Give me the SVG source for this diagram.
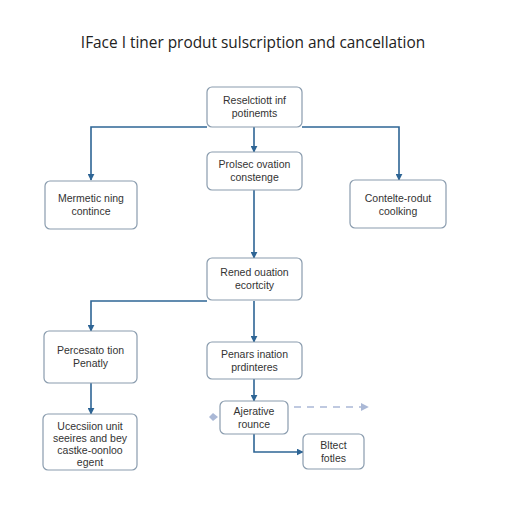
<svg xmlns="http://www.w3.org/2000/svg" width="512" height="512" viewBox="0 0 512 512">
<defs>
<style>
.node rect{fill:#fff;stroke:#8a9cae;stroke-width:1.2}
.node text{font-family:"Liberation Sans",Arial,sans-serif;font-size:10.5px;fill:#333;text-anchor:middle}
.title{font-family:"Open Sans","Liberation Sans",sans-serif;font-size:15.4px;fill:#222;text-anchor:middle}
.conn path{fill:none;stroke:#2e6595;stroke-width:1.6}
.conn .dash{stroke:#aab8d6;stroke-dasharray:7 6;stroke-width:1.6}
.conn .tip{fill:#aab8d6;stroke:none}
</style>
<marker id="ah" viewBox="0 0 10 10" refX="9" refY="5" markerWidth="7" markerHeight="7" orient="auto" markerUnits="userSpaceOnUse">
<path d="M0,0 L10,5 L0,10 z" fill="#2e6595"/>
</marker>
<marker id="ahl" viewBox="0 0 10 10" refX="9" refY="5" markerWidth="8" markerHeight="8" orient="auto" markerUnits="userSpaceOnUse">
<path d="M0,0 L10,5 L0,10 z" fill="#aab8d6"/>
</marker>
</defs>
<rect width="512" height="512" fill="#fff"/>
<text class="title" x="253" y="48">IFace I tiner produt sulscription and cancellation</text>
<g class="conn">
<path d="M207,127 H91 V180" marker-end="url(#ah)"/>
<path d="M302,127 H399 V180" marker-end="url(#ah)"/>
<path d="M254,127 V152" marker-end="url(#ah)"/>
<path d="M254,190 V258" marker-end="url(#ah)"/>
<path d="M207,301 H91 V331" marker-end="url(#ah)"/>
<path d="M254,301 V342" marker-end="url(#ah)"/>
<path d="M91,383 V414" marker-end="url(#ah)"/>
<path d="M254,379 V401" marker-end="url(#ah)"/>
<path d="M254,434 V452 H303" marker-end="url(#ah)"/>
<path class="dash" d="M294,407 H368" marker-end="url(#ahl)"/>
<path class="tip" d="M218,417 L213,413 L209,417 L213,421 Z"/>
</g>
<g id="n1" class="node"><rect x="207" y="87" width="95" height="40" rx="5"/><text x="254.5" y="104">Reselctiott inf</text><text x="254.5" y="117">potinemts</text></g>
<g id="n2" class="node"><rect x="207" y="152" width="95" height="38" rx="5"/><text x="254.5" y="168">Prolsec ovation</text><text x="254.5" y="181">constenge</text></g>
<g id="n3" class="node"><rect x="45" y="181" width="92" height="48" rx="5"/><text x="91" y="202">Mermetic ning</text><text x="91" y="215">contince</text></g>
<g id="n4" class="node"><rect x="350" y="180" width="96" height="48" rx="5"/><text x="398" y="202">Contelte-rodut</text><text x="398" y="215">coolking</text></g>
<g id="n5" class="node"><rect x="207" y="258" width="95" height="42" rx="5"/><text x="254.5" y="276">Rened ouation</text><text x="254.5" y="289">ecortcity</text></g>
<g id="n6" class="node"><rect x="44" y="331" width="93" height="52" rx="5"/><text x="90.5" y="354">Percesato tion</text><text x="90.5" y="367">Penatly</text></g>
<g id="n7" class="node"><rect x="207" y="342" width="95" height="37" rx="5"/><text x="254.5" y="358">Penars ination</text><text x="254.5" y="371">prdinteres</text></g>
<g id="n8" class="node"><rect x="43" y="414" width="94" height="56" rx="5"/><text x="90" y="430">Ucecsiion unit</text><text x="90" y="442">seeires and bey</text><text x="90" y="454">castke-oonloo</text><text x="90" y="466">egent</text></g>
<g id="n9" class="node"><rect x="220" y="401" width="68" height="33" rx="5"/><text x="254" y="415">Ajerative</text><text x="254" y="428">rounce</text></g>
<g id="n10" class="node"><rect x="303" y="434" width="61" height="35" rx="5"/><text x="333.5" y="449">Bltect</text><text x="333.5" y="462">fotles</text></g>
</svg>
